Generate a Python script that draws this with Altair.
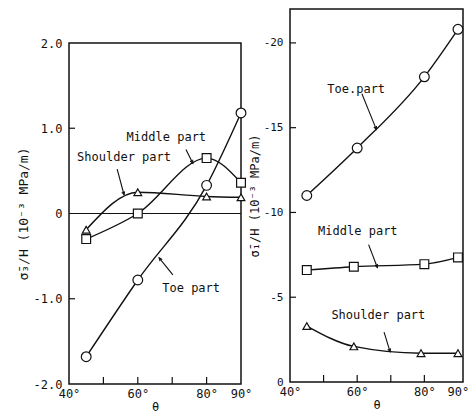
import math
import altair as alt
import pandas as pd

# ---------------- data ----------------
parts = ["Toe part", "Middle part", "Shoulder part"]

# left panel: sigma3 / H  (10^-3 MPa/m)
theta_left = [45, 60, 80, 90]
s3_toe = [-1.68, -0.78, 0.33, 1.18]
s3_middle = [-0.30, 0.00, 0.65, 0.36]
s3_shoulder = [-0.19, 0.25, 0.20, 0.19]

# right panel: sigma1 / H  (10^-3 MPa/m)
theta_r_toe = [45, 60, 80, 90]
s1_toe = [-11.0, -13.8, -18.0, -20.8]
theta_r_mid = [45, 59, 80, 90]
s1_middle = [-6.6, -6.8, -6.95, -7.35]
theta_r_sh = [45, 59, 79, 90]
s1_shoulder = [-3.3, -2.1, -1.7, -1.7]

x_tick_labels = [40, 60, 80, 90]
x_minor_ticks = [50, 60, 70, 80]
left_y_labels = [2.0, 1.0, 0.0, -1.0, -2.0]
left_y_ticks = [1.0, -1.0]
right_y_labels = [0, -5, -10, -15, -20]
right_y_ticks = [-5, -10, -15, -20]

# annotations (text in data units)
left_text = ["Middle part", "Shoulder part", "Toe part"]
left_text_x = [68.3, 56.0, 75.5]
left_text_y = [0.90, 0.66, -0.87]
left_arrow = [  # (x1, y1, x2, y2) tip at (x2, y2)
    (74.0, 0.75, 76.0, 0.59),
    (54.0, 0.52, 56.0, 0.22),
    (70.2, -0.72, 66.2, -0.52),
]
right_text = ["Toe.part", "Middle part", "Shoulder part"]
right_text_x = [59.7, 60.2, 66.3]
right_text_y = [-17.3, -8.9, -3.95]
right_arrow = [
    (61.4, -17.0, 65.7, -14.9),
    (63.4, -8.1, 66.0, -6.75),
    (68.0, -2.94, 69.8, -1.78),
]

FONT = "DejaVu Sans Mono"
INK = "#111111"
LW = 172
LH = 341
RW = 173
RH = 373
GAP = 27


def long_df(xs_list, ys_list):
    rows = []
    for part, xs, ys in zip(parts, xs_list, ys_list):
        for x, y in zip(xs, ys):
            rows.append({"part": part, "theta": x, "val": y})
    return pd.DataFrame(rows)


def arrow_df(arrows, sx, sy):
    rows = []
    for x1, y1, x2, y2 in arrows:
        dx = (x2 - x1) * sx
        dy = (y2 - y1) * sy
        ang = math.degrees(math.atan2(dx, -dy)) % 360
        rows.append({"theta": x1, "val": y1, "theta2": x2, "val2": y2, "ang": ang})
    return pd.DataFrame(rows)


def panel(df, texts, tx, ty, arrows, xsc, ysc, xax, yax, width, height, yticks, sx, sy, zero_line):
    xenc = alt.X("theta:Q", scale=xsc, axis=xax)
    yenc = alt.Y("val:Q", scale=ysc, axis=yax)
    shape_scale = alt.Scale(domain=parts, range=["circle", "square", "triangle-up"])
    size_scale = alt.Scale(domain=parts, range=[95, 60, 60])
    lines = alt.Chart(df).mark_line(interpolate="monotone", color=INK, strokeWidth=1.4).encode(
        x=xenc, y=yenc, detail="part:N"
    )
    pts = alt.Chart(df).mark_point(filled=False, fill="white", fillOpacity=1, color=INK,
                                   strokeWidth=1.2, opacity=1).encode(
        x=xenc, y=yenc,
        shape=alt.Shape("part:N", scale=shape_scale, legend=None),
        size=alt.Size("part:N", scale=size_scale, legend=None),
    )
    tdf = pd.DataFrame({"theta": tx, "val": ty, "label": texts})
    txt = alt.Chart(tdf).mark_text(font=FONT, fontSize=12, color=INK).encode(
        x=xenc, y=yenc, text="label:N"
    )
    adf = arrow_df(arrows, sx, sy)
    arr = alt.Chart(adf).mark_rule(color=INK, strokeWidth=1.1).encode(
        x=xenc, y=yenc, x2="theta2:Q", y2="val2:Q"
    )
    heads = alt.Chart(adf).mark_point(shape="M-0.45,1L0,0L0.45,1", filled=False, color=INK,
                                      strokeWidth=1.1, size=40, opacity=1).encode(
        x=alt.X("theta2:Q", scale=xsc, axis=xax), y=alt.Y("val2:Q", scale=ysc, axis=yax),
        angle=alt.Angle("ang:Q", scale=None),
    )
    ytk = alt.Chart(pd.DataFrame({"val": yticks})).mark_rule(color=INK, strokeWidth=1.2).encode(
        y=yenc, x=alt.value(0), x2=alt.value(6)
    )
    xtk = alt.Chart(pd.DataFrame({"theta": x_minor_ticks})).mark_rule(color=INK, strokeWidth=1.2).encode(
        x=xenc, y=alt.value(height), y2=alt.value(height - 7)
    )
    layers = [ytk, xtk]
    if zero_line:
        z = alt.Chart(pd.DataFrame({"val": [0.0]})).mark_rule(color=INK, strokeWidth=1.2).encode(y=yenc)
        layers.append(z)
    layers += [lines, pts, arr, heads, txt]
    return alt.layer(*layers).properties(width=width, height=height)


x_axis = alt.Axis(values=x_tick_labels, labelExpr="datum.value + '°'", title="θ",
                  grid=False, domain=False, ticks=False, labelPadding=4, titlePadding=2,
                  labelFlush=False)

xl_scale = alt.Scale(domain=[40, 90], nice=False, zero=False)
yl_scale = alt.Scale(domain=[-2.0, 2.0], nice=False, zero=False)
yl_axis = alt.Axis(values=left_y_labels, grid=False, domain=False, ticks=False,
                   labelPadding=7, titlePadding=3,
                   labelExpr="datum.value == 0 ? '0' : (datum.value < 0 ? '-' : '') + format(abs(datum.value), '.1f')",
                   title="σ̄₃/H       (10⁻³ MPa/m)", titleFontSize=13)

xr_scale = alt.Scale(domain=[40, 91.5], nice=False, zero=False)
yr_scale = alt.Scale(domain=[-22, 0], reverse=True, nice=False, zero=False)
yr_axis = alt.Axis(values=right_y_labels, grid=False, domain=False, ticks=False,
                   labelPadding=7, titlePadding=2, labelFontSize=11,
                   labelExpr="toString(datum.value)",
                   title="σ̄₁/H   (10⁻³ MPa/m)", titleFontSize=12)

left_df = long_df([theta_left] * 3, [s3_toe, s3_middle, s3_shoulder])
right_df = long_df([theta_r_toe, theta_r_mid, theta_r_sh], [s1_toe, s1_middle, s1_shoulder])

left = panel(left_df, left_text, left_text_x, left_text_y, left_arrow,
             xl_scale, yl_scale, x_axis, yl_axis, LW, LH,
             left_y_ticks, LW / 50.0, -LH / 4.0, True)
right = panel(right_df, right_text, right_text_x, right_text_y, right_arrow,
              xr_scale, yr_scale, x_axis, yr_axis, RW, RH,
              right_y_ticks, RW / 51.5, RH / 22.0, False)

# invisible spacer so the left frame starts lower than the right one
spacer = alt.Chart(pd.DataFrame({"s": [0]})).mark_point(opacity=0, size=1).encode(
    x=alt.value(0), y=alt.value(0)
).properties(width=LW, height=GAP, view=alt.ViewBackground(strokeOpacity=0))

left_col = alt.vconcat(spacer, left, spacing=0)

chart = alt.hconcat(left_col, right, spacing=-6).properties(
    padding={"left": 16, "top": 8, "right": 0, "bottom": 0}
).configure_view(stroke=INK, strokeWidth=1.5).configure_axis(
    labelFont=FONT, titleFont=FONT, labelFontSize=12, titleFontSize=12,
    labelColor=INK, titleColor=INK, titleFontWeight="normal"
)

chart.save("out.html", embed_options={"renderer": "svg", "actions": False})
